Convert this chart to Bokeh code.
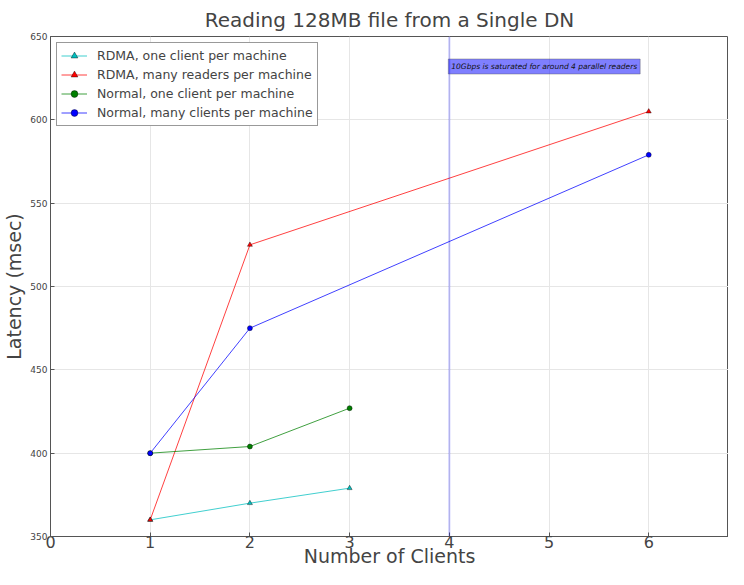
from bokeh.plotting import figure
from bokeh.models import Range1d, Span, Label, Legend, LegendItem, FixedTicker
from bokeh.embed import file_html
from bokeh.resources import INLINE

FONT = "DejaVu Sans"

title_text = "Reading 128MB file from a Single DN"
x_label = "Number of Clients"
y_label = "Latency (msec)"

rdma_one_x = [1, 2, 3]
rdma_one_y = [360, 370, 379]
rdma_many_x = [1, 2, 6]
rdma_many_y = [360, 525, 605]
normal_one_x = [1, 2, 3]
normal_one_y = [400, 404, 427]
normal_many_x = [1, 2, 6]
normal_many_y = [400, 475, 579]

x_ticks = [0, 1, 2, 3, 4, 5, 6]
y_ticks = [350, 400, 450, 500, 550, 600, 650]
saturation_x = 4
note_text = "10Gbps is saturated for around 4 parallel readers"
note_y = 632

p = figure(width=728, height=569, output_backend="svg", toolbar_location=None,
           x_range=Range1d(0, 6.8), y_range=Range1d(350, 650),
           min_border_left=41, min_border_right=0, min_border_top=32, min_border_bottom=10)

p.title.text = title_text
p.title.text_font = FONT
p.title.text_font_size = "20px"
p.title.text_font_style = "normal"
p.title.align = "center"
p.title.offset = 0

p.xaxis.ticker = FixedTicker(ticks=x_ticks)
p.yaxis.ticker = FixedTicker(ticks=y_ticks)
p.xaxis.axis_label = x_label
p.yaxis.axis_label = y_label
for ax in (p.xaxis[0], p.yaxis[0]):
    ax.axis_label_text_font = FONT
    ax.axis_label_text_font_style = "normal"
    ax.axis_label_text_font_size = "19px"
    ax.major_label_text_font = FONT
    ax.major_tick_out = 0
    ax.major_tick_in = 4
    ax.minor_tick_out = 0
    ax.minor_tick_in = 0
    ax.axis_line_color = "#555555"
    ax.major_tick_line_color = "#555555"
p.xaxis.major_label_text_font_size = "16px"
p.xaxis.major_label_standoff = -1
p.xaxis.axis_label_standoff = -6
p.xaxis.axis_label_text_font_size = "19px"
p.yaxis.major_label_text_font_size = "9px"
p.yaxis.major_label_text_color = "#444444"
p.yaxis.major_label_standoff = 3
p.yaxis.axis_label_standoff = 2

p.grid.grid_line_color = "#e6e6e6"
p.grid.grid_line_width = 1
p.outline_line_color = "#555555"

p.add_layout(Span(location=saturation_x, dimension="height", line_color="#0000ff",
                  line_alpha=0.22, line_width=2))
p.add_layout(Label(x=saturation_x, y=note_y, text=note_text, text_font=FONT,
                   text_font_size="7.5px", text_font_style="italic", text_color="#111111",
                   text_baseline="middle", x_offset=-1,
                   background_fill_color="#0000ff", background_fill_alpha=0.5,
                   border_line_color="#555555", border_line_alpha=0.4,
                   padding=3))

series = [
    ("RDMA, one client per machine", rdma_one_x, rdma_one_y, "#00bfbf", "triangle"),
    ("RDMA, many readers per machine", rdma_many_x, rdma_many_y, "#ff0000", "triangle"),
    ("Normal, one client per machine", normal_one_x, normal_one_y, "#008000", "circle"),
    ("Normal, many clients per machine", normal_many_x, normal_many_y, "#0000ff", "circle"),
]
items = []
for name, xs, ys, col, mk in series:
    ln = p.line(xs, ys, line_color=col, line_width=1, line_alpha=0.75)
    sc = p.scatter(xs, ys, marker=mk, size=5, fill_color=col, line_color="#000000",
                   line_width=0.4)
    items.append(LegendItem(label=name, renderers=[ln, sc]))

legend = Legend(items=items, location="top_left")
legend.label_text_font = FONT
legend.label_text_font_size = "12.5px"
legend.border_line_color = "#333333"
legend.border_line_width = 1
legend.background_fill_alpha = 1
legend.margin = 6
legend.padding = 4
legend.spacing = 2
legend.label_height = 17
legend.glyph_height = 17
legend.glyph_width = 26
legend.label_standoff = 10
p.add_layout(legend)

open("out.html", "w").write(file_html(p, INLINE))
